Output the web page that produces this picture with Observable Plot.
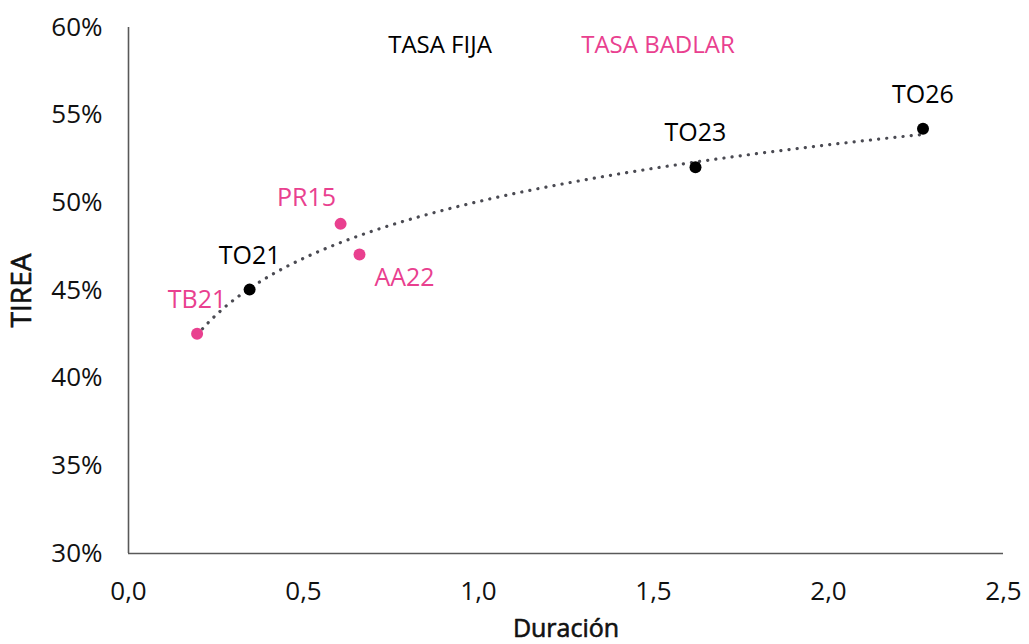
<!DOCTYPE html>
<html>
<head>
<meta charset="utf-8">
<script src="https://cdn.jsdelivr.net/npm/d3@7"></script>
<script src="https://cdn.jsdelivr.net/npm/@observablehq/plot@0.6"></script>
<style>
  html, body { margin: 0; padding: 0; background: #fff; }
  #chart { width: 1029px; height: 644px; }
</style>
</head>
<body>
<div id="chart"></div>
<script>
// ---- Data ----
const names    = ["TB21", "TO21", "PR15", "AA22", "TO23", "TO26"];
const duration = [0.196, 0.346, 0.606, 0.66, 1.62, 2.27];
const tirea    = [42.53, 45.05, 48.8, 47.05, 52.03, 54.22];
const rateType = ["BADLAR", "FIJA", "BADLAR", "BADLAR", "FIJA", "FIJA"];
const legendLabels = ["TASA FIJA", "TASA BADLAR"];
const legendTypes  = ["FIJA", "BADLAR"];
const xTicks = [0, 0.5, 1, 1.5, 2, 2.5];
const yTicks = [30, 35, 40, 45, 50, 55, 60];

const PINK = "#E9408F";
const BLACK = "#000000";

const points = names.map((n, i) => ({name: n, x: duration[i], y: tirea[i], type: rateType[i]}));

// Logarithmic trend line (least squares on ln x), as in the original chart
const lx = duration.map(Math.log);
const mx = d3.mean(lx), my = d3.mean(tirea);
const b = d3.sum(lx.map((v, i) => (v - mx) * (tirea[i] - my))) / d3.sum(lx.map(v => (v - mx) ** 2));
const a = my - b * mx;
const [x0, x1] = d3.extent(duration);
const trend = d3.range(0, 201).map(i => {
  const x = x0 + (x1 - x0) * i / 200;
  return {x, y: a + b * Math.log(x)};
});

const colorOf = t => t === "BADLAR" ? PINK : BLACK;
const legend = legendLabels.map((l, i) => ({label: l, type: legendTypes[i]}));

const chart = Plot.plot({
  width: 1029,
  height: 644,
  marginLeft: 128,
  marginRight: 26,
  marginTop: 27,
  marginBottom: 91,
  style: {fontFamily: "'Open Sans', sans-serif", fontSize: "24px", color: "#111", background: "#fff"},
  x: {domain: [0, 2.5], ticks: xTicks},
  y: {domain: [30, 60], ticks: yTicks},
  marks: [
    Plot.axisX({ticks: xTicks, tickSize: 0, tickPadding: 28, tickFormat: d => d3.format(".1f")(d).replace(".", ","),
      fontSize: 26, label: null}),
    Plot.axisY({ticks: yTicks, tickSize: 0, tickPadding: 26, tickFormat: d => d + "%",
      fontSize: 26, label: null}),
    Plot.text(["Duración"], {frameAnchor: "bottom", text: d => d, fontSize: 25, fill: "#111",
      stroke: "#111", strokeWidth: 0.6, lineAnchor: "middle", textAnchor: "middle", dy: 75}),
    Plot.text(["TIREA"], {frameAnchor: "left", text: d => d, fontSize: 28, fill: "#111",
      stroke: "#111", strokeWidth: 0.6, lineAnchor: "middle", textAnchor: "middle", rotate: -90, dx: -106}),
    Plot.ruleX([0], {stroke: "#595959", strokeWidth: 1.6}),
    Plot.ruleY([30], {stroke: "#595959", strokeWidth: 1.6}),
    Plot.line(trend, {x: "x", y: "y", stroke: "#4a4a52", strokeWidth: 3.2, strokeDasharray: "0.1 8.1", strokeLinecap: "round"}),
    Plot.dot(points, {x: "x", y: "y", r: 6, fill: d => colorOf(d.type), stroke: "none"}),
    Plot.text(points.filter(d => ["TB21", "TO21", "TO23", "TO26"].includes(d.name)),
      {x: "x", y: "y", text: "name", fill: d => colorOf(d.type), fontSize: 25, dy: -34}),
    Plot.text(points.filter(d => d.name === "PR15"),
      {x: "x", y: "y", text: "name", fill: d => colorOf(d.type), fontSize: 25, dx: -34, dy: -26}),
    Plot.text(points.filter(d => d.name === "AA22"),
      {x: "x", y: "y", text: "name", fill: d => colorOf(d.type), fontSize: 25, dx: 45, dy: 23}),
    Plot.text(legend.filter(d => d.type === "FIJA"),
      {frameAnchor: "top", text: "label", fill: d => colorOf(d.type), fontSize: 24, lineAnchor: "middle", dx: -126, dy: 18}),
    Plot.text(legend.filter(d => d.type === "BADLAR"),
      {frameAnchor: "top", text: "label", fill: d => colorOf(d.type), fontSize: 24, lineAnchor: "middle", dx: 92, dy: 18})
  ]
});
document.getElementById("chart").appendChild(chart);
</script>
</body>
</html>
